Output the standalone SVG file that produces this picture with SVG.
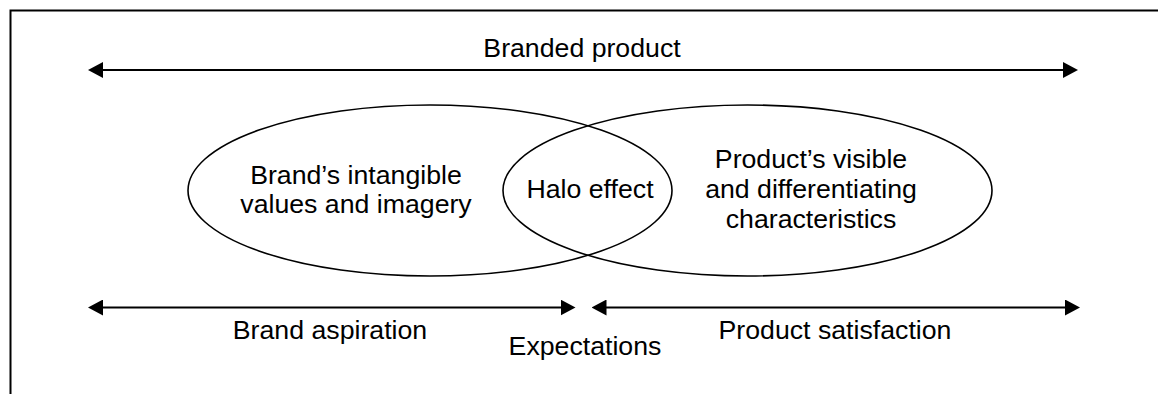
<svg xmlns="http://www.w3.org/2000/svg" width="1158" height="394" viewBox="0 0 1158 394">
  <style>
    .frame { fill: none; stroke: #000; stroke-width: 2; }
    .oval { fill: none; stroke: #000; stroke-width: 1.6; }
    .arrow { stroke: #000; stroke-width: 2; fill: none; marker-start: url(#head); marker-end: url(#head); }
    .lbl { font-family: "Liberation Sans", Arial, sans-serif; font-size: 26.7px; fill: #000; text-anchor: middle; }
  </style>
  <defs>
    <marker id="head" viewBox="0 0 15 16" refX="5" refY="8" markerWidth="15" markerHeight="16" markerUnits="userSpaceOnUse" orient="auto-start-reverse">
      <path d="M0,0 L15,8 L0,16 Z" fill="#000"/>
    </marker>
  </defs>
  <rect width="1158" height="394" fill="#fff"/>
  <!-- outer frame, open to the right and bottom -->
  <path class="frame" d="M10.5,394 V10.5 H1158"/>

  <g id="connectors">
    <line class="arrow" x1="98" y1="70" x2="1068" y2="70"/>
    <line class="arrow" x1="98" y1="307.5" x2="565.5" y2="307.5"/>
    <line class="arrow" x1="601.5" y1="307.5" x2="1070" y2="307.5"/>
  </g>

  <g id="brand-values">
    <ellipse class="oval" cx="430" cy="190.5" rx="242" ry="85.5"/>
    <text class="lbl" x="356" y="184">Brand’s intangible</text>
    <text class="lbl" x="356" y="213">values and imagery</text>
  </g>
  <g id="product-characteristics">
    <ellipse class="oval" cx="747.5" cy="190.5" rx="244.5" ry="85.5"/>
    <text class="lbl" x="811" y="168">Product’s visible</text>
    <text class="lbl" x="811" y="198">and differentiating</text>
    <text class="lbl" x="811" y="228">characteristics</text>
  </g>
  <g id="halo-effect">
    <text class="lbl" x="590" y="198">Halo effect</text>
  </g>
  <g id="branded-product">
    <text class="lbl" x="582" y="57">Branded product</text>
  </g>
  <g id="brand-aspiration">
    <text class="lbl" x="330" y="339">Brand aspiration</text>
  </g>
  <g id="expectations">
    <text class="lbl" x="585" y="355">Expectations</text>
  </g>
  <g id="product-satisfaction">
    <text class="lbl" x="835" y="339">Product satisfaction</text>
  </g>
</svg>
